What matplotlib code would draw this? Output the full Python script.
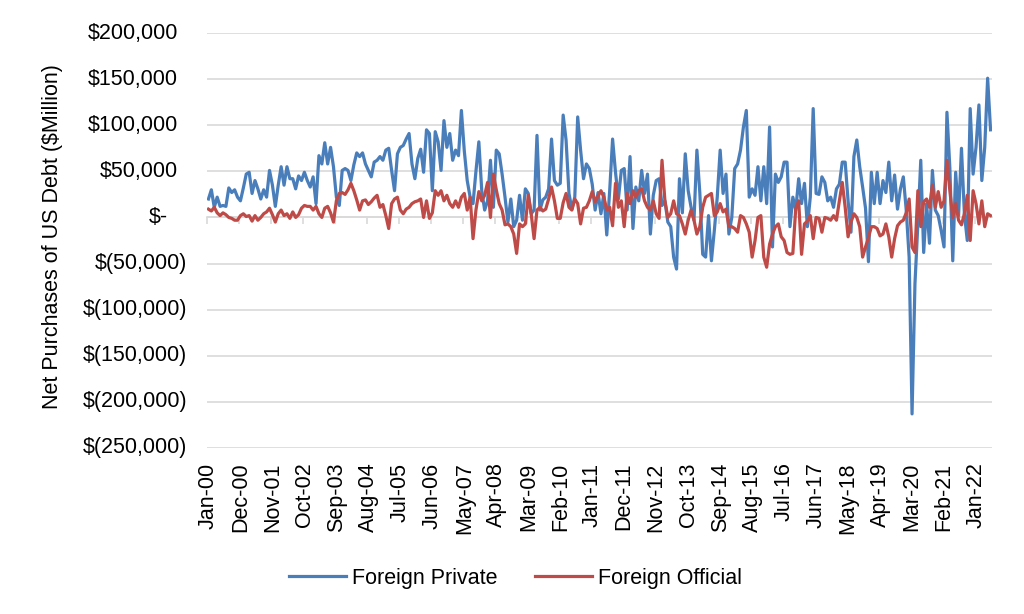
import matplotlib
matplotlib.use("Agg")
import matplotlib.pyplot as plt
import numpy as np

plt.rcParams['font.family'] = ['Liberation Sans', 'DejaVu Sans']

# net purchases per month, in $ thousand million (x1000 -> $Million), Jan-00 .. Jun-22
private_k = [
    20, 30, 11, 22, 12, 13, 12, 32, 27, 30,
    22, 18, 32, 47, 49, 26, 40, 31, 20, 30,
    22, 51, 35, 12, 35, 55, 35, 55, 42, 42,
    31, 45, 40, 49, 40, 33, 44, 15, 67, 58,
    81, 58, 76, 55, 22, 13, 51, 53, 51, 40,
    57, 70, 66, 70, 58, 51, 44, 60, 62, 66,
    62, 73, 75, 51, 29, 69, 76, 78, 85, 91,
    58, 42, 64, 74, 49, 95, 91, 29, 93, 82,
    51, 105, 76, 91, 62, 73, 67, 116, 72, 40,
    22, 15, 50, 82, 29, 8, 18, 62, 11, 73,
    69, 47, 22, -5, 20, -10, -3, 24, -3, 31,
    26, 4, 8, 89, 8, 19, 22, 31, 85, 40,
    35, 37, 111, 84, 26, 9, 22, 109, 73, 42,
    58, 53, 36, 8, 27, 4, 26, -19, 29, 85,
    49, 20, 51, 53, 8, 66, -12, 33, 18, 51,
    26, 47, -18, 24, 40, 42, 13, 18, -5, -10,
    -43, -56, 42, 5, 69, 29, 11, -3, 73, 27,
    -40, -43, 2, -47, -14, 22, 73, 26, 47, -18,
    0, 53, 58, 73, 98, 116, 22, 31, 24, 55,
    18, 55, 15, 98, -32, 47, 38, 44, 60, 60,
    -10, 22, 8, 42, 15, 37, -10, 22, 118, 26,
    25, 44, 38, 18, 22, 11, 31, 36, 60, 60,
    18, -16, 66, 84, 55, 33, 10, -48, 49, 15,
    49, 15, 40, 27, 60, 18, 46, 9, 31, 44,
    8, -43, -213, -72, -7, 62, -38, 15, -28, 51,
    8, 2, -14, -32, 114, 54, -47, 49, 2, 75,
    4, -25, 118, 47, 76, 122, 40, 76, 151, 95,
]

official_k = [
    9, 7, 11, 5, 2, 5, 3, 0, -1, -3,
    -3, 2, 4, 1, 2, -4, 2, -3, 0, 4,
    6, 10, 3, -5, 4, 8, 2, 4, -1, 6,
    0, 3, 10, 13, 12, 12, 8, 12, 4, 0,
    10, 12, 5, -5, 18, 26, 27, 25, 30, 37,
    29, 19, 8, 18, 19, 14, 17, 21, 24, 11,
    14, 2, -12, 15, 20, 22, 8, 4, 9, 11,
    15, 17, 18, 20, 0, 18, -1, 5, 29, 24,
    29, 18, 24, 15, 11, 18, 11, 22, 26, 8,
    22, -23, 8, 28, 18, 24, 38, 0, 47, 30,
    15, 8, -8, -7, -10, -18, -39, -7, -10, -7,
    24, 4, -23, 8, 11, 7, 9, 20, 33, 18,
    -1, -1, 16, 26, 11, 8, 20, 15, -7, 10,
    11, 18, 28, 17, 23, 29, 22, 8, 11, -9,
    37, 11, 18, -10, 26, 15, 29, 22, 29, 31,
    18, 11, 8, 18, 4, -1, 62, 18, 0, 4,
    18, 4, 2, -7, -18, -3, 8, -3, -18, -10,
    11, 22, 24, 26, 2, 6, 15, 6, 9, -10,
    -10, -12, -16, 2, 0, -7, -16, -43, -25, 0,
    2, -43, -54, -29, -18, -10, -7, -21, -25, -38,
    -40, -39, 10, 18, -40, -7, -4, 2, -23, 0,
    -1, -16, 0, -1, -3, 2, -3, 18, 38, 11,
    -21, -5, 4, 0, -10, -43, -32, -22, -10, -10,
    -12, -20, -18, -7, -21, -43, -23, -9, -5, -3,
    5, 20, -32, -38, 29, -10, 17, 20, 11, 35,
    11, 28, 11, 18, 62, 29, 0, 15, -3, -8,
    4, 24, -25, 29, 15, -7, 18, -10, 4, 2,
]

month_labels = ["Jan-00", "Dec-00", "Nov-01", "Oct-02", "Sep-03", "Aug-04",
                "Jul-05", "Jun-06", "May-07", "Apr-08", "Mar-09", "Feb-10",
                "Jan-11", "Dec-11", "Nov-12", "Oct-13", "Sep-14", "Aug-15",
                "Jul-16", "Jun-17", "May-18", "Apr-19", "Mar-20", "Feb-21",
                "Jan-22"]
label_step = 11
y_ticks = [200000, 150000, 100000, 50000, 0, -50000, -100000, -150000,
           -200000, -250000]

FS = 15.5
GRID = '#D9D9D9'


def money(v):
    if v > 0:
        return "$" + f"{v:,}"
    if v < 0:
        return "$(" + f"{-v:,}" + ")"
    return "$-"


fig = plt.figure(figsize=(10.24, 6.14), dpi=100)
ax = fig.add_axes([207 / 1024, 1 - 448 / 614, 785 / 1024, 415 / 614])

n = len(private_k)
x = np.arange(n)
ax.plot(x, np.array(private_k) * 1000, color='#4A7EBB', lw=2.3,
        solid_joinstyle='round', label='Foreign Private')
ax.plot(x, np.array(official_k) * 1000, color='#BE4B48', lw=2.3,
        solid_joinstyle='round', label='Foreign Official')

ax.set_xlim(-0.5, n - 0.5)
ax.set_ylim(min(y_ticks), max(y_ticks))
ax.set_yticks(y_ticks)
ax.grid(axis='y', color=GRID, lw=1.2)
ax.set_axisbelow(True)
for sp in ax.spines.values():
    sp.set_visible(False)

# y labels, accounting style alignment
ax.tick_params(axis='y', length=0, labelleft=False)
for v in y_ticks:
    off = 20.9 if v > 0 else (14.4 if v < 0 else 28.0)
    ax.annotate(money(v), xy=(0, v), xycoords=ax.get_yaxis_transform(),
                xytext=(-off, 0), textcoords='offset points',
                ha='right', va='center', fontsize=FS)

ax.set_xticks(x[::label_step])
ax.set_xticklabels(month_labels, rotation=90, fontsize=FS)
ax.tick_params(axis='x', length=0, pad=10.5)

# category axis crossing at zero, ticks between categories
zero_pos = (0 - min(y_ticks)) / (max(y_ticks) - min(y_ticks))
sec = ax.secondary_xaxis(zero_pos)
sec.set_alignment('bottom')
sec.set_xticks(np.arange(-0.5, n, label_step))
sec.tick_params(axis='x', length=5, width=1.2, color=GRID, direction='out',
                labelbottom=False, labeltop=False)
sec.spines['bottom'].set_color(GRID)
sec.spines['bottom'].set_linewidth(1.2)

ax.set_ylabel('Net Purchases of US Debt ($Million)', fontsize=FS)
ax.yaxis.set_label_coords(-0.183, 0.51)

fig.legend(loc='center', bbox_to_anchor=(0.5034, 0.0586), ncol=2,
           frameon=False, fontsize=FS, handlelength=2.65, handletextpad=0.3,
           columnspacing=1.7)

fig.savefig('out.png', dpi=100)
